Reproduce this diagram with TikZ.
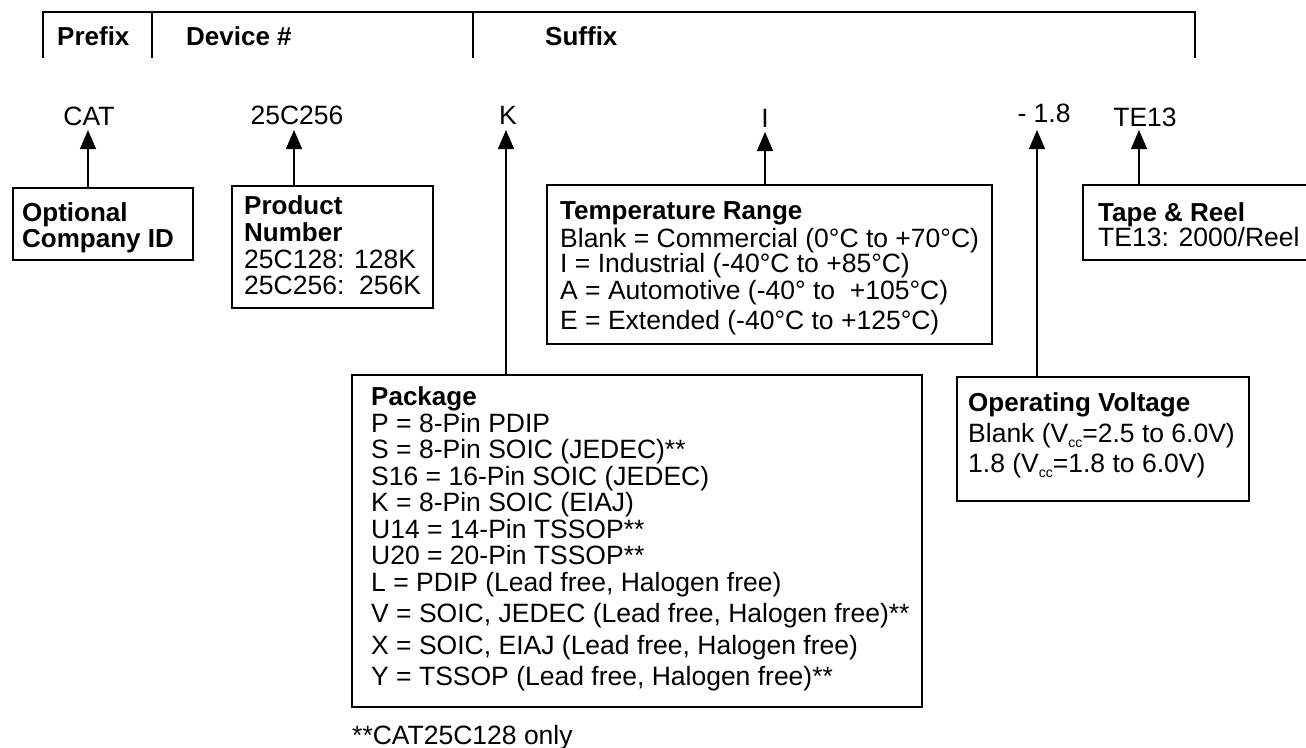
\documentclass[tikz,border=0pt]{standalone}
\usepackage{fontspec}
\setmainfont{Liberation Sans}
\usetikzlibrary{arrows.meta}
\newcommand{\vcc}{V\raisebox{-5pt}{\fontsize{14}{14}\selectfont cc}}
\begin{document}
\begin{tikzpicture}[x=1pt,y=-1pt,
  txt/.style={inner sep=0pt, anchor=base west, font=\fontsize{26.5}{26.5}\selectfont},
  btxt/.style={inner sep=0pt, anchor=base west, font=\fontsize{26}{26}\selectfont\bfseries},
  ctxt/.style={inner sep=0pt, anchor=base, font=\fontsize{26.5}{26.5}\selectfont},
  hdr/.style={line width=2.7pt},
  box/.style={draw, line width=2.5pt, inner sep=0pt, outer sep=0pt},
  arr/.style={line width=1.3pt, -{Triangle[width=16pt,length=19pt]}}]
\useasboundingbox (0,0) rectangle (1306,747);

% header
\draw[hdr] (43,58) -- (43,12) -- (1195,12) -- (1195,58);
\draw[hdr] (152,12) -- (152,58);
\draw[hdr] (473,12) -- (473,58);
\node[btxt] (hPrefix) at (57,45) {Prefix};
\node[btxt] (hDevice) at (186,45) {Device \#};
\node[btxt] (hSuffix) at (545,45) {Suffix};

% part labels
\node[ctxt] (lCAT) at (89,125) {CAT};
\node[ctxt] (lDev) at (297,124) {25C256};
\node[ctxt] (lK) at (508,124) {K};
\node[ctxt] (lI) at (765,127) {I};
\node[ctxt] (lV) at (1044,122) {- 1.8};
\node[ctxt] (lTE) at (1145,126) {TE13};

% boxes
\node[box, minimum width=180pt, minimum height=72pt] (optbox) at (103,224) {};
\node[box, minimum width=201pt, minimum height=122pt] (prodbox) at (332.5,247) {};
\node[box, minimum width=445pt, minimum height=159pt] (tempbox) at (769.5,264.5) {};
\node[box, minimum width=229pt, minimum height=75pt] (tapebox) at (1197.5,222.5) {};
\node[box, minimum width=570pt, minimum height=332pt] (pkgbox) at (637,541) {};
\node[box, minimum width=292pt, minimum height=124pt] (voltbox) at (1103,439) {};

% arrows
\coordinate (tCAT) at (88,130);
\coordinate (tDev) at (294,130);
\coordinate (tK) at (506,130);
\coordinate (tI) at (765,132);
\coordinate (tV) at (1037,130);
\coordinate (tTE) at (1139,130);
\draw[arr] (optbox.north -| tCAT) -- (tCAT);
\draw[arr] (prodbox.north -| tDev) -- (tDev);
\draw[arr] (pkgbox.north -| tK) -- (tK);
\draw[arr] (tempbox.north -| tI) -- (tI);
\draw[arr] (voltbox.north -| tV) -- (tV);
\draw[arr] (tapebox.north -| tTE) -- (tTE);

% optional company id
\node[btxt] (o1) at (22,221) {Optional};
\node[btxt] (o2) at (22,247) {Company ID};

% product number
\node[btxt] (p1) at (244,214) {Product};
\node[btxt] (p2) at (244,241) {Number};
\node[txt] (p3) at (244,268) {25C128: 128K};
\node[txt] (p4) at (244,294) {25C256:\ \ 256K};

% temperature range
\node[btxt] (t1) at (560,219) {Temperature Range};
\node[txt] (t2) at (560,247) {Blank = Commercial (0°C to +70°C)};
\node[txt] (t3) at (560,272) {I = Industrial (-40°C to +85°C)};
\node[txt] (t4) at (560,299) {A = Automotive (-40° to\ \ +105°C)};
\node[txt] (t5) at (560,329) {E = Extended (-40°C to +125°C)};

% tape & reel
\node[btxt] (r1) at (1098,221) {Tape \& Reel};
\node[txt] (r2) at (1098,246) {TE13: 2000/Reel};

% package
\node[btxt] (k0) at (371,405) {Package};
\node[txt] (k1) at (371,432) {P = 8-Pin PDIP};
\node[txt] (k2) at (371,458) {S = 8-Pin SOIC (JEDEC)**};
\node[txt] (k3) at (371,485) {S16 = 16-Pin SOIC (JEDEC)};
\node[txt] (k4) at (371,511) {K = 8-Pin SOIC (EIAJ)};
\node[txt] (k5) at (371,538) {U14 = 14-Pin TSSOP**};
\node[txt] (k6) at (371,564) {U20 = 20-Pin TSSOP**};
\node[txt] (k7) at (371,591) {L = PDIP (Lead free, Halogen free)};
\node[txt] (k8) at (371,622) {V = SOIC, JEDEC (Lead free, Halogen free)**};
\node[txt] (k9) at (371,654) {X = SOIC, EIAJ (Lead free, Halogen free)};
\node[txt] (k10) at (371,685) {Y = TSSOP (Lead free, Halogen free)**};

% operating voltage
\node[btxt] (v1) at (968,411) {Operating Voltage};
\node[txt] (v2) at (968,442) {Blank (\vcc=2.5 to 6.0V)};
\node[txt] (v3) at (968,472) {1.8 (\vcc=1.8 to 6.0V)};

% footnote
\node[txt] (fn) at (352,744) {**CAT25C128 only};
\end{tikzpicture}
\end{document}
